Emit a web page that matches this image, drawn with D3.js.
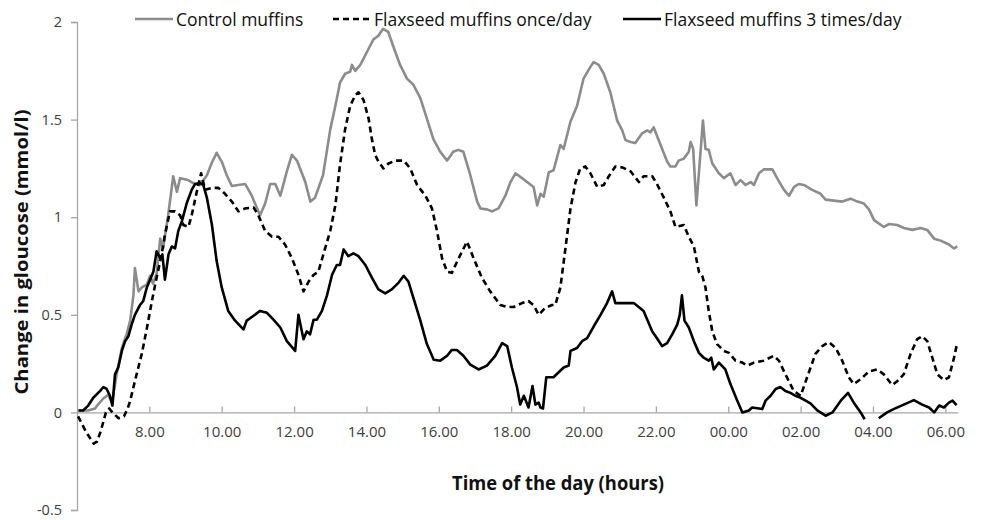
<!DOCTYPE html>
<html>
<head>
<meta charset="utf-8">
<script src="https://cdn.jsdelivr.net/npm/d3@7"></script>
<style>
  body { margin: 0; background: #fff; }
  svg { display: block; font-family: "Open Sans", "Liberation Sans", sans-serif; }
</style>
</head>
<body>
<div class="chart"></div>
<script>
// glucose change over a day, three diets
// time is in hours from midnight (values past 24 are next morning)

var tickHours = [8, 10, 12, 14, 16, 18, 20, 22, 24, 26, 28, 30];
var tickLabels = ["8.00", "10.00", "12.00", "14.00", "16.00", "18.00", "20.00", "22.00", "00.00", "02.00", "04.00", "06.00"];
var yTicks = [-0.5, 0, 0.5, 1, 1.5, 2];

var seriesNames = ["Control muffins", "Flaxseed muffins once/day", "Flaxseed muffins 3 times/day"];

var control = [
  [6.04, 0.01], [6.30, 0.01], [6.50, 0.02], [6.58, 0.04], [6.72, 0.07], [6.86, 0.09], [6.97, 0.05],
  [7.10, 0.20], [7.24, 0.33], [7.37, 0.40], [7.47, 0.47], [7.56, 0.60], [7.60, 0.74], [7.70, 0.62],
  [7.79, 0.64], [7.93, 0.655], [8.02, 0.70], [8.10, 0.66], [8.20, 0.71], [8.30, 0.89], [8.38, 0.84],
  [8.52, 1.01], [8.66, 1.21], [8.76, 1.13], [8.85, 1.20], [9.07, 1.19], [9.26, 1.17], [9.40, 1.165],
  [9.59, 1.215], [9.73, 1.28], [9.86, 1.33], [10.00, 1.285], [10.14, 1.215], [10.28, 1.16], [10.45, 1.165],
  [10.65, 1.17], [10.83, 1.11], [11.06, 1.01], [11.20, 1.07], [11.34, 1.17], [11.48, 1.17], [11.62, 1.11],
  [11.80, 1.235], [11.94, 1.32], [12.08, 1.29], [12.31, 1.18], [12.45, 1.08], [12.58, 1.10], [12.80, 1.215],
  [13.00, 1.45], [13.14, 1.57], [13.27, 1.69], [13.41, 1.735], [13.55, 1.745], [13.60, 1.78], [13.69, 1.75],
  [13.83, 1.78], [14.01, 1.845], [14.19, 1.91], [14.33, 1.93], [14.46, 1.965], [14.60, 1.95], [14.80, 1.845],
  [14.93, 1.78], [15.12, 1.71], [15.29, 1.68], [15.49, 1.61], [15.67, 1.505], [15.85, 1.40], [16.04, 1.335],
  [16.23, 1.29], [16.40, 1.335], [16.54, 1.345], [16.68, 1.335], [16.87, 1.215], [17.06, 1.08], [17.15, 1.045],
  [17.33, 1.04], [17.47, 1.03], [17.65, 1.045], [17.84, 1.11], [17.98, 1.18], [18.12, 1.225], [18.30, 1.20],
  [18.44, 1.18], [18.62, 1.155], [18.72, 1.06], [18.81, 1.12], [18.90, 1.105], [19.04, 1.23], [19.17, 1.24],
  [19.36, 1.37], [19.45, 1.35], [19.64, 1.49], [19.82, 1.57], [20.00, 1.71], [20.19, 1.77], [20.28, 1.795],
  [20.42, 1.78], [20.56, 1.735], [20.74, 1.64], [20.93, 1.495], [21.07, 1.445], [21.16, 1.395], [21.30, 1.385],
  [21.43, 1.38], [21.62, 1.43], [21.76, 1.445], [21.85, 1.435], [21.94, 1.46], [22.13, 1.37], [22.31, 1.285],
  [22.40, 1.26], [22.54, 1.26], [22.63, 1.29], [22.77, 1.30], [22.91, 1.335], [22.96, 1.385], [23.03, 1.35],
  [23.12, 1.06], [23.30, 1.495], [23.37, 1.35], [23.46, 1.345], [23.56, 1.275], [23.74, 1.225], [23.88, 1.20],
  [24.06, 1.225], [24.20, 1.165], [24.34, 1.19], [24.48, 1.165], [24.62, 1.18], [24.71, 1.165], [24.85, 1.225],
  [24.98, 1.245], [25.22, 1.245], [25.35, 1.20], [25.54, 1.14], [25.68, 1.11], [25.82, 1.155], [25.95, 1.17],
  [26.09, 1.165], [26.32, 1.14], [26.55, 1.12], [26.69, 1.09], [26.92, 1.085], [27.15, 1.08], [27.38, 1.095],
  [27.57, 1.08], [27.75, 1.07], [27.89, 1.04], [28.03, 0.985], [28.30, 0.95], [28.44, 0.965], [28.67, 0.96],
  [28.85, 0.945], [29.09, 0.935], [29.32, 0.945], [29.50, 0.935], [29.69, 0.89], [29.87, 0.88], [30.10, 0.86],
  [30.24, 0.84], [30.33, 0.85]
];

var onceDay = [
  [6.03, -0.02], [6.25, -0.10], [6.46, -0.16], [6.55, -0.15], [6.65, -0.10], [6.80, 0.0], [6.89, 0.02],
  [6.98, 0.0], [7.15, -0.03], [7.30, -0.02], [7.40, 0.02], [7.47, 0.06], [7.60, 0.16], [7.79, 0.30],
  [7.93, 0.43], [8.07, 0.57], [8.20, 0.69], [8.34, 0.81], [8.43, 0.91], [8.57, 1.03], [8.71, 1.03],
  [8.85, 1.01], [8.94, 0.96], [9.08, 0.95], [9.17, 1.01], [9.31, 1.13], [9.43, 1.225], [9.54, 1.14],
  [9.73, 1.15], [9.91, 1.15], [10.09, 1.12], [10.28, 1.08], [10.46, 1.03], [10.65, 1.045], [10.88, 1.05],
  [11.01, 1.01], [11.20, 0.93], [11.39, 0.90], [11.57, 0.90], [11.75, 0.86], [11.94, 0.79], [12.12, 0.705],
  [12.26, 0.62], [12.40, 0.67], [12.54, 0.705], [12.67, 0.72], [12.81, 0.81], [13.00, 0.93], [13.14, 1.06],
  [13.27, 1.27], [13.41, 1.45], [13.55, 1.57], [13.69, 1.625], [13.78, 1.64], [13.92, 1.60], [14.06, 1.505],
  [14.15, 1.40], [14.24, 1.32], [14.33, 1.285], [14.47, 1.25], [14.61, 1.275], [14.80, 1.29], [15.03, 1.29],
  [15.21, 1.25], [15.40, 1.165], [15.63, 1.11], [15.81, 1.045], [15.95, 0.93], [16.09, 0.79], [16.23, 0.72],
  [16.36, 0.715], [16.55, 0.79], [16.78, 0.875], [16.96, 0.79], [17.19, 0.69], [17.42, 0.62], [17.70, 0.55],
  [17.89, 0.54], [18.07, 0.54], [18.30, 0.56], [18.48, 0.57], [18.62, 0.55], [18.76, 0.50], [18.94, 0.535],
  [19.13, 0.55], [19.22, 0.55], [19.36, 0.64], [19.50, 0.84], [19.64, 1.045], [19.78, 1.18], [19.91, 1.25],
  [20.05, 1.26], [20.19, 1.225], [20.38, 1.155], [20.56, 1.165], [20.70, 1.21], [20.88, 1.26], [21.07, 1.255],
  [21.30, 1.235], [21.53, 1.18], [21.66, 1.21], [21.90, 1.21], [22.03, 1.17], [22.22, 1.10], [22.40, 1.03],
  [22.54, 0.95], [22.77, 0.96], [22.91, 0.90], [23.05, 0.85], [23.19, 0.72], [23.28, 0.70], [23.37, 0.64],
  [23.46, 0.52], [23.56, 0.415], [23.69, 0.35], [23.88, 0.315], [24.02, 0.305], [24.20, 0.265], [24.39, 0.255],
  [24.53, 0.24], [24.71, 0.255], [24.98, 0.265], [25.26, 0.29], [25.40, 0.265], [25.58, 0.195], [25.81, 0.11],
  [26.00, 0.085], [26.18, 0.18], [26.41, 0.30], [26.60, 0.34], [26.78, 0.36], [26.97, 0.33], [27.15, 0.265],
  [27.33, 0.18], [27.47, 0.145], [27.66, 0.17], [27.89, 0.21], [28.12, 0.22], [28.30, 0.195], [28.53, 0.14],
  [28.67, 0.16], [28.85, 0.195], [29.04, 0.30], [29.22, 0.375], [29.36, 0.39], [29.50, 0.365], [29.64, 0.28],
  [29.78, 0.195], [29.96, 0.165], [30.10, 0.18], [30.24, 0.28], [30.31, 0.34]
];

// null marks the stretch that is missing from the original trace
var threeTimes = [
  [6.04, 0.01], [6.17, 0.01], [6.31, 0.035], [6.45, 0.075], [6.64, 0.11], [6.73, 0.13], [6.82, 0.12],
  [6.91, 0.085], [6.98, 0.035], [7.05, 0.195], [7.14, 0.23], [7.24, 0.315], [7.33, 0.365], [7.42, 0.39],
  [7.51, 0.45], [7.60, 0.50], [7.74, 0.55], [7.83, 0.57], [7.93, 0.64], [8.02, 0.68], [8.11, 0.72],
  [8.20, 0.825], [8.30, 0.79], [8.36, 0.81], [8.43, 0.68], [8.53, 0.81], [8.62, 0.85], [8.71, 0.84],
  [8.80, 0.93], [8.90, 0.98], [9.03, 1.07], [9.17, 1.14], [9.26, 1.17], [9.40, 1.175], [9.49, 1.165],
  [9.59, 1.10], [9.73, 0.96], [9.86, 0.775], [10.00, 0.64], [10.18, 0.52], [10.37, 0.47], [10.60, 0.425],
  [10.69, 0.47], [10.88, 0.495], [11.06, 0.52], [11.25, 0.51], [11.43, 0.475], [11.62, 0.435], [11.80, 0.365],
  [12.03, 0.315], [12.12, 0.50], [12.26, 0.375], [12.35, 0.415], [12.44, 0.40], [12.54, 0.475], [12.63, 0.475],
  [12.77, 0.52], [12.91, 0.60], [13.05, 0.705], [13.18, 0.755], [13.27, 0.755], [13.37, 0.835], [13.50, 0.80],
  [13.64, 0.815], [13.78, 0.80], [13.97, 0.755], [14.15, 0.69], [14.33, 0.63], [14.52, 0.61], [14.70, 0.63],
  [14.89, 0.665], [15.03, 0.70], [15.16, 0.67], [15.30, 0.585], [15.49, 0.47], [15.67, 0.35], [15.86, 0.27],
  [16.04, 0.265], [16.23, 0.29], [16.36, 0.32], [16.50, 0.32], [16.68, 0.29], [16.87, 0.245], [17.10, 0.22],
  [17.33, 0.24], [17.56, 0.29], [17.75, 0.355], [17.89, 0.34], [18.02, 0.23], [18.16, 0.13], [18.25, 0.04],
  [18.35, 0.085], [18.48, 0.025], [18.59, 0.135], [18.67, 0.04], [18.76, 0.05], [18.81, 0.025], [18.88, 0.02],
  [18.97, 0.18], [19.17, 0.18], [19.45, 0.23], [19.59, 0.24], [19.64, 0.315], [19.82, 0.33], [19.96, 0.365],
  [20.10, 0.38], [20.28, 0.44], [20.47, 0.50], [20.65, 0.56], [20.79, 0.62], [20.88, 0.56], [21.07, 0.56],
  [21.39, 0.56], [21.66, 0.52], [21.90, 0.415], [22.03, 0.38], [22.17, 0.34], [22.31, 0.355], [22.45, 0.40],
  [22.59, 0.45], [22.66, 0.50], [22.72, 0.60], [22.79, 0.47], [22.91, 0.435], [23.05, 0.365], [23.19, 0.305],
  [23.32, 0.28], [23.46, 0.265], [23.53, 0.28], [23.60, 0.22], [23.74, 0.255], [23.92, 0.22], [24.06, 0.145],
  [24.25, 0.06], [24.39, 0.0], [24.57, 0.01], [24.66, 0.025], [24.94, 0.017], [25.03, 0.06], [25.17, 0.085],
  [25.31, 0.12], [25.44, 0.13], [25.58, 0.11], [25.72, 0.10], [25.86, 0.085], [26.00, 0.075], [26.14, 0.06],
  [26.28, 0.045], [26.46, 0.01], [26.69, -0.017], [26.88, 0.0], [27.11, 0.06], [27.31, 0.10], [27.47, 0.05],
  [27.66, 0.0], [27.77, -0.035], [27.95, null], [28.16, -0.03], [28.39, 0.0], [28.57, 0.017], [28.85, 0.04],
  [29.13, 0.063], [29.36, 0.04], [29.55, 0.025], [29.69, 0.0], [29.83, 0.035], [29.96, 0.025], [30.10, 0.05],
  [30.20, 0.06], [30.31, 0.037]
];

var width = 983, height = 520;
var gray = "#8c8c8c", axisGray = "#a6a6a6", labelColor = "#404040";

var svg = d3.select(".chart").append("svg")
  .attr("width", width)
  .attr("height", height);

var x = d3.scaleLinear().domain([6, 30.35]).range([77, 958]);
var y = d3.scaleLinear().domain([-0.5, 2]).range([510, 22]);

// y axis
var yAxis = svg.append("g")
  .attr("transform", "translate(" + x(6) + ",0)")
  .call(d3.axisLeft(y).tickValues(yTicks).tickSize(6).tickPadding(9)
    .tickFormat(d => d === 0 ? "0" : String(d)));
yAxis.select(".domain").attr("stroke", axisGray).attr("stroke-width", 1.3);
yAxis.selectAll(".tick line").attr("stroke", axisGray).attr("stroke-width", 1.3);
yAxis.selectAll(".tick text")
  .attr("fill", labelColor)
  .style("font-size", "14.5px")
  .style("font-family", "Open Sans, sans-serif");

// x axis sits on zero, ticks point up into the plot
var xAxis = svg.append("g")
  .attr("transform", "translate(0," + y(0) + ")")
  .call(d3.axisBottom(x).tickValues(tickHours).tickSizeInner(-6).tickSizeOuter(0)
    .tickPadding(14).tickFormat((d, i) => tickLabels[i]));
xAxis.select(".domain").attr("stroke", axisGray).attr("stroke-width", 1.3);
xAxis.selectAll(".tick line").attr("stroke", axisGray).attr("stroke-width", 1.3);
xAxis.selectAll(".tick text")
  .attr("fill", labelColor)
  .style("font-size", "15px")
  .style("font-family", "Open Sans, sans-serif");

// axis titles
svg.append("text")
  .attr("x", 558)
  .attr("y", 490)
  .attr("text-anchor", "middle")
  .attr("textLength", 212)
  .attr("lengthAdjust", "spacingAndGlyphs")
  .style("font-size", "19px")
  .style("font-weight", "bold")
  .attr("fill", "#111")
  .text("Time  of the day (hours)");

svg.append("text")
  .attr("transform", "translate(28,252) rotate(-90)")
  .attr("text-anchor", "middle")
  .attr("textLength", 285)
  .attr("lengthAdjust", "spacingAndGlyphs")
  .style("font-size", "17px")
  .style("font-weight", "bold")
  .attr("fill", "#111")
  .text("Change in gloucose (mmol/l)");

// lines
var line = d3.line()
  .defined(d => d[1] !== null)
  .x(d => x(d[0]))
  .y(d => y(d[1]));

var styles = [
  { data: control, color: gray, dash: null },
  { data: onceDay, color: "#000", dash: "6,4" },
  { data: threeTimes, color: "#000", dash: null }
];

svg.selectAll("path.series")
  .data(styles)
  .enter()
  .append("path")
  .attr("class", "series")
  .attr("d", d => line(d.data))
  .attr("fill", "none")
  .attr("stroke", d => d.color)
  .attr("stroke-width", 2.6)
  .attr("stroke-linejoin", "round")
  .attr("stroke-dasharray", d => d.dash);

// legend across the top
var legendX = [135, 333, 623];
var legend = svg.selectAll("g.legend")
  .data(styles)
  .enter()
  .append("g")
  .attr("class", "legend")
  .attr("transform", (d, i) => "translate(" + legendX[i] + ",19)");

legend.append("line")
  .attr("x1", 0).attr("x2", 38)
  .attr("stroke", d => d.color)
  .attr("stroke-width", 2.6)
  .attr("stroke-dasharray", d => d.dash);

legend.append("text")
  .attr("x", 41)
  .attr("y", 7)
  .style("font-size", "17.5px")
  .attr("fill", "#111")
  .text((d, i) => seriesNames[i]);
</script>
</body>
</html>
